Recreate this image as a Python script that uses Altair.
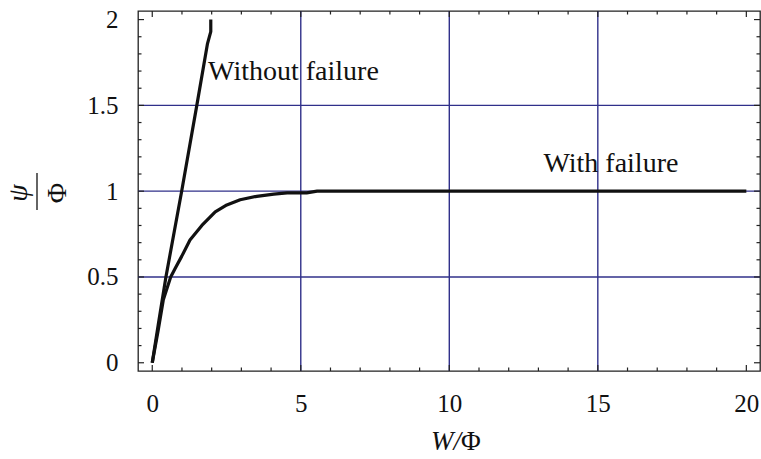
import altair as alt
import pandas as pd

# ---- data ----
wo_x = [0, 0.2, 0.46, 0.99, 1.5, 1.86, 1.97, 1.97]
wo_y = [0, 0.22, 0.5, 1.0, 1.5, 1.86, 1.93, 2.0]
wf_x = [0, 0.2, 0.37, 0.62, 0.77, 0.99, 1.27, 1.67, 2.12, 2.51, 2.96, 3.52, 4.09, 4.54, 5.2, 5.55, 20]
wf_y = [0, 0.19, 0.365, 0.5, 0.55, 0.62, 0.715, 0.80, 0.88, 0.92, 0.95, 0.97, 0.983, 0.99, 0.99, 1.0, 1.0]

x_labels = [0, 5, 10, 15, 20]
y_labels = [0, 0.5, 1, 1.5, 2]
grid_x = [5, 10, 15]
grid_y = [0.5, 1, 1.5]
x_minor = [v for v in range(0, 21) if v % 5 != 0]
y_minor = [round(v * 0.1, 1) for v in range(0, 21) if v % 5 != 0]

ann_text = ["Without failure", "With failure"]
ann_x = [1.88, 13.17]
ann_y = [1.65, 1.11]

W, H = 622, 360
FONT = "Liberation Serif"
XD = [-0.48, 20.46]
YD = [-0.048, 2.05]

rows = []
for i, (x, y) in enumerate(zip(wo_x, wo_y)):
    rows.append({"series": "Without failure", "i": i, "x": x, "y": y})
for i, (x, y) in enumerate(zip(wf_x, wf_y)):
    rows.append({"series": "With failure", "i": i, "x": x, "y": y})
curves = pd.DataFrame(rows)

xs = alt.Scale(domain=XD, nice=False, zero=False)
ys = alt.Scale(domain=YD, nice=False, zero=False)

XAX = alt.Axis(
    values=x_labels, ticks=False, tickSize=0, domain=False, grid=False,
    labelFont=FONT, labelFontSize=25, labelColor="#111", labelPadding=20, title=None)
YAX = alt.Axis(
    values=y_labels, format="~g", ticks=False, tickSize=0, domain=False, grid=False,
    labelFont=FONT, labelFontSize=25, labelColor="#111", labelPadding=20, title=None)

GRID = "#30308a"
TICK = "#222222"

def X(f="x"):
    return alt.X(f + ":Q", scale=xs, axis=XAX)

def Y(f="y"):
    return alt.Y(f + ":Q", scale=ys, axis=YAX)

grid_v = alt.Chart(pd.DataFrame({"x": grid_x})).mark_rule(color=GRID, strokeWidth=1.4).encode(x=X())
grid_h = alt.Chart(pd.DataFrame({"y": grid_y})).mark_rule(color=GRID, strokeWidth=1.4).encode(y=Y())

def xticks(vals, length):
    d = pd.DataFrame({"x": vals})
    b = alt.Chart(d).mark_rule(color=TICK, strokeWidth=1.2).encode(
        x=X(), y=alt.value(H), y2=alt.value(H - length))
    t = alt.Chart(d).mark_rule(color=TICK, strokeWidth=1.2).encode(
        x=X(), y=alt.value(0), y2=alt.value(length))
    return [b, t]

def yticks(vals, length):
    d = pd.DataFrame({"y": vals})
    l = alt.Chart(d).mark_rule(color=TICK, strokeWidth=1.2).encode(
        y=Y(), x=alt.value(0), x2=alt.value(length))
    r = alt.Chart(d).mark_rule(color=TICK, strokeWidth=1.2).encode(
        y=Y(), x=alt.value(W), x2=alt.value(W - length))
    return [l, r]

lines = alt.Chart(curves).mark_line(color="#111111", strokeWidth=3.2, strokeJoin="round").encode(
    x=X(), y=Y(), detail="series:N", order="i:Q",
)

ann = alt.Chart(pd.DataFrame({"t": ann_text, "x": ann_x, "y": ann_y})).mark_text(
    font=FONT, fontSize=28, align="left", baseline="alphabetic", color="#111"
).encode(x=X(), y=Y(), text="t:N")

def label(txt, x, y, **kw):
    return alt.Chart(pd.DataFrame({"t": [txt]})).mark_text(
        font=FONT, color="#111", **kw
    ).encode(x=alt.value(x), y=alt.value(y), text="t:N")

# rotated fraction y-title psi / Phi
psi = label("ψ", -119, 182, fontSize=28, fontStyle="italic", angle=270, align="center", baseline="middle")
phi = label("Φ", -80, 182, fontSize=28, angle=270, align="center", baseline="middle")
bar = alt.Chart(pd.DataFrame({"t": ["bar"]})).mark_rule(color="#111", strokeWidth=1.3).encode(
    x=alt.value(-101), y=alt.value(162), y2=alt.value(199))

# x title W/Φ (italic W, upright Φ)
xt_w = label("W/", 323, 439, fontSize=27, fontStyle="italic", align="right", baseline="alphabetic")
xt_phi = label("Φ", 323, 439, fontSize=27, align="left", baseline="alphabetic")

layers = [grid_v, grid_h]
layers += xticks(x_labels, 6) + xticks(x_minor, 3.5)
layers += yticks(y_labels, 6) + yticks(y_minor, 3.5)
layers += [ann, lines, psi, phi, bar, xt_w, xt_phi]

chart = alt.layer(*layers).properties(
    width=W, height=H,
    autosize=alt.AutoSizeParams(type="none"),
    padding={"left": 138, "top": 11, "right": 1, "bottom": 88},
).configure(background="white").configure_view(stroke="#222", strokeWidth=1.3)

chart.save("out.html", embed_options={"renderer": "svg", "actions": False})
